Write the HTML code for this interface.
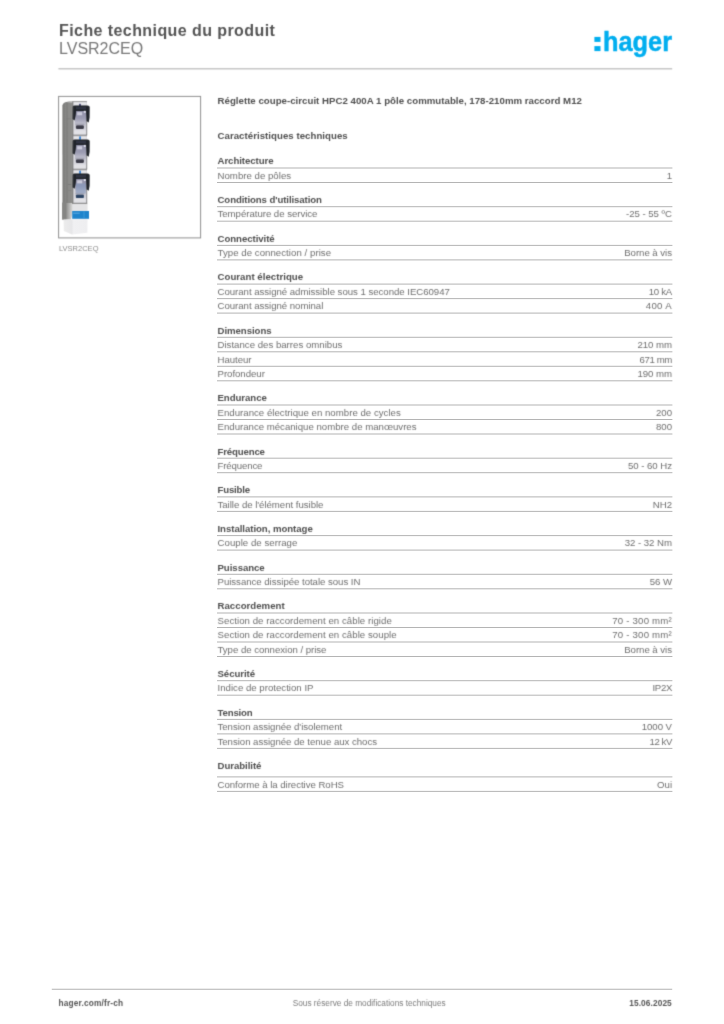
<!DOCTYPE html>
<html lang="fr"><head><meta charset="utf-8"><title>Fiche technique du produit LVSR2CEQ</title>
<style>
html,body{margin:0;padding:0;background:#fff}
body{width:724px;height:1024px;position:relative;overflow:hidden;font-family:"Liberation Sans",sans-serif;}
#pg{position:absolute;left:0;top:0;width:724px;height:1024px;filter:url(#soft)}
.t{position:absolute;white-space:nowrap;font-size:9.65px;line-height:12px;}
.h{font-weight:bold;color:#4f4f4f;letter-spacing:-0.05px}
.r{color:#6f6f6f;letter-spacing:-0.03px}
.v{text-align:right}
svg.ov{position:absolute;left:0;top:0}
.ttl{position:absolute;left:59px;white-space:nowrap}
</style></head><body><svg width="0" height="0" style="position:absolute"><filter id="soft" x="0" y="0" width="100%" height="100%" color-interpolation-filters="sRGB"><feConvolveMatrix order="3" kernelMatrix="0.01917 0.10012 0.01917 0.10012 0.52283 0.10012 0.01917 0.10012 0.01917" edgeMode="duplicate" preserveAlpha="false"/></filter></svg><div id="pg">
<svg class="ov" width="724" height="1024" viewBox="0 0 724 1024">
<line x1="58.4" x2="672.2" y1="68.8" y2="68.8" stroke="#c6c6c6" stroke-width="1.5"/>
<rect x="58.6" y="96.4" width="142" height="141.5" fill="#fff" stroke="#909090" stroke-width="1"/>
<defs>
<filter id="pb" x="-10%" y="-5%" width="120%" height="110%"><feGaussianBlur stdDeviation="0.45"/></filter>
<linearGradient id="side" x1="0" x2="1" y1="0" y2="0"><stop offset="0" stop-color="#8a8a88"/><stop offset="0.12" stop-color="#7c7c7a"/><stop offset="0.3" stop-color="#878785"/><stop offset="0.45" stop-color="#7e7e7c"/><stop offset="0.6" stop-color="#8c8c8a"/><stop offset="0.8" stop-color="#8a8a88"/><stop offset="1" stop-color="#9a9a98"/></linearGradient>
<linearGradient id="cov" x1="0" x2="0" y1="0" y2="1"><stop offset="0" stop-color="#8a8aa2"/><stop offset="0.4" stop-color="#9c9cb2"/><stop offset="0.62" stop-color="#bcbcca"/><stop offset="0.72" stop-color="#c8c8d2"/><stop offset="1" stop-color="#dedee4"/></linearGradient>
<linearGradient id="sidefade" x1="0" x2="1" y1="0" y2="0"><stop offset="0" stop-color="#838381"/><stop offset="0.45" stop-color="#9a9a98"/><stop offset="1" stop-color="#e0e0e0"/></linearGradient>
<linearGradient id="base" x1="0" x2="1" y1="0" y2="0"><stop offset="0" stop-color="#ececec"/><stop offset="0.35" stop-color="#e6e6e8"/><stop offset="0.4" stop-color="#f0f0f2"/><stop offset="1" stop-color="#eeeef0"/></linearGradient>
</defs>
<g>
<path d="M62.3 105.5 Q62.6 103.5 65 102.2 L69 101.4 L73 101.4 L73 203 L62.4 203 Z" fill="url(#side)"/>
<path d="M66 101.9 L86.6 101.3 L86.9 103 L72.6 103 Z" fill="#b8b8b8"/>
<path d="M62.2 203 L73 203 L73 212 L71 219.6 L62.2 219.6 Z" fill="url(#sidefade)"/>
<rect x="62.2" y="202.5" width="4.2" height="17" fill="#858583"/>
<rect x="72.6" y="101.6" width="14.3" height="34.1" fill="#d9d9de"/>
<rect x="72.6" y="101.3" width="14.3" height="0.8" fill="#8a8a8a"/>
<rect x="73.2" y="102.39999999999999" width="13" height="2.6" fill="#e6e6ea"/>
<rect x="79.0" y="103.8" width="2" height="2.2" rx="0.6" fill="#4a4a78"/>
<path d="M75.2 109.6 L86 109.6 L86.4 131.6 L74.8 131.6 Z" fill="url(#cov)"/>
<path d="M72.6 106.8 Q72.8 105.39999999999999 75 105.39999999999999 L87.6 105.39999999999999 Q89.6 105.39999999999999 89.7 107.1 L89.6 117.6 L88.7 122.6 L86.4 121.1 L86 110.89999999999999 L76.2 110.89999999999999 L75.7 115.6 L74.6 120.6 L72.4 119.1 Z" fill="#20242a"/>
<rect x="76" y="106.8" width="10" height="2.6" fill="#34384a" opacity="0.8"/>
<rect x="83.8" y="110.8" width="2" height="2" fill="#e8e8f4" opacity="0.9"/>
<rect x="77.2" y="112.1" width="5" height="3.2" fill="#d8d8e6" opacity="0.8"/>
<rect x="75.9" y="125.19999999999999" width="8" height="3.7" rx="1.2" fill="#3c3c48"/>
<rect x="75.4" y="123.6" width="9" height="1.6" fill="#9a9aaa" opacity="0.7"/>
<rect x="73.6" y="130.6" width="12.6" height="3.8" fill="#e2e2e6"/>
<rect x="72.4" y="101.6" width="0.9" height="34.1" fill="#5c5c5a" opacity="0.85"/>
<rect x="86.4" y="120.6" width="0.8" height="14.8" fill="#58585a" opacity="0.8"/>
<rect x="72.6" y="134.7" width="14.4" height="0.9" fill="#666" opacity="0.8"/>
<rect x="72.6" y="135.7" width="14.3" height="34.1" fill="#d9d9de"/>
<rect x="72.6" y="135.39999999999998" width="14.3" height="0.8" fill="#8a8a8a"/>
<rect x="73.2" y="136.5" width="13" height="2.6" fill="#e6e6ea"/>
<rect x="79.2" y="136.29999999999998" width="1.7" height="3.6" rx="0.6" fill="#2f7bd0"/>
<path d="M75.2 143.7 L86 143.7 L86.4 165.7 L74.8 165.7 Z" fill="url(#cov)"/>
<path d="M72.6 140.89999999999998 Q72.8 139.5 75 139.5 L87.6 139.5 Q89.6 139.5 89.7 141.2 L89.6 151.7 L88.7 156.7 L86.4 155.2 L86 145.0 L76.2 145.0 L75.7 149.7 L74.6 154.7 L72.4 153.2 Z" fill="#20242a"/>
<rect x="76" y="140.89999999999998" width="10" height="2.6" fill="#34384a" opacity="0.8"/>
<rect x="83.8" y="144.89999999999998" width="2" height="2" fill="#e8e8f4" opacity="0.9"/>
<rect x="77.2" y="146.2" width="5" height="3.2" fill="#d8d8e6" opacity="0.8"/>
<rect x="75.9" y="159.29999999999998" width="8" height="3.7" rx="1.2" fill="#3c3c48"/>
<rect x="75.4" y="157.7" width="9" height="1.6" fill="#9a9aaa" opacity="0.7"/>
<rect x="73.6" y="164.7" width="12.6" height="3.8" fill="#e2e2e6"/>
<rect x="72.4" y="135.7" width="0.9" height="34.1" fill="#5c5c5a" opacity="0.85"/>
<rect x="86.4" y="154.7" width="0.8" height="14.8" fill="#58585a" opacity="0.8"/>
<rect x="72.6" y="168.79999999999998" width="14.4" height="0.9" fill="#666" opacity="0.8"/>
<rect x="72.6" y="169.8" width="14.3" height="34.1" fill="#d9d9de"/>
<rect x="72.6" y="169.5" width="14.3" height="0.8" fill="#8a8a8a"/>
<rect x="73.2" y="170.60000000000002" width="13" height="2.6" fill="#e6e6ea"/>
<rect x="79.2" y="170.4" width="1.7" height="3.6" rx="0.6" fill="#2f7bd0"/>
<path d="M75.2 177.8 L86 177.8 L86.4 199.8 L74.8 199.8 Z" fill="url(#cov)"/>
<path d="M72.6 175.0 Q72.8 173.60000000000002 75 173.60000000000002 L87.6 173.60000000000002 Q89.6 173.60000000000002 89.7 175.3 L89.6 185.8 L88.7 190.8 L86.4 189.3 L86 179.10000000000002 L76.2 179.10000000000002 L75.7 183.8 L74.6 188.8 L72.4 187.3 Z" fill="#20242a"/>
<rect x="76" y="175.0" width="10" height="2.6" fill="#34384a" opacity="0.8"/>
<rect x="83.8" y="179.0" width="2" height="2" fill="#e8e8f4" opacity="0.9"/>
<rect x="77.2" y="180.3" width="5" height="3.2" fill="#d8d8e6" opacity="0.8"/>
<rect x="75.9" y="194.4" width="8" height="3.7" rx="1.2" fill="#2c4464"/>
<rect x="75.4" y="192.8" width="9" height="1.6" fill="#9a9aaa" opacity="0.7"/>
<rect x="73.6" y="198.8" width="12.6" height="3.8" fill="#e2e2e6"/>
<rect x="72.4" y="169.8" width="0.9" height="34.1" fill="#5c5c5a" opacity="0.85"/>
<rect x="86.4" y="188.8" width="0.8" height="14.8" fill="#58585a" opacity="0.8"/>
<rect x="72.6" y="202.9" width="14.4" height="0.9" fill="#666" opacity="0.8"/>
<rect x="76" y="183.5" width="9.6" height="10" fill="#7f98c0" opacity="0.5"/>
<rect x="72.6" y="202.9" width="14.6" height="0.9" fill="#7c7c7c"/>
<rect x="72.6" y="203.8" width="15" height="7.4" fill="#e4e4e6"/>
<rect x="72.2" y="211" width="16.8" height="7.8" fill="#1d84cc"/>
<rect x="73.2" y="212.6" width="6.5" height="1.1" fill="#5aa8e0"/>
<rect x="83.5" y="211.5" width="1" height="6.8" fill="#3a98d8"/>
<path d="M63.6 219.4 L87.5 219.2 L87.4 232.8 L72 234.4 L63.8 231 Z" fill="url(#base)"/>
<rect x="68" y="184" width="3.2" height="0.7" fill="#6e6e6c" opacity="0.7"/>
<rect x="68" y="190" width="3.2" height="0.6" fill="#7a7a78" opacity="0.6"/>
<rect x="66.4" y="118.5" width="4" height="0.7" fill="#767674" opacity="0.6"/>
</g>
<g fill="#00aeef"><rect x="594.4" y="36.9" width="6.1" height="5"/><rect x="594.4" y="46.1" width="6.1" height="5"/>
<text x="603.0" y="51.1" font-family="Liberation Sans, sans-serif" font-weight="bold" font-size="27.9" stroke="#00aeef" stroke-width="0.5" textLength="69.0" lengthAdjust="spacingAndGlyphs">hager</text></g>
</svg>
<div class="ttl" style="top:20.96px;font-size:16px;line-height:20px;font-weight:bold;color:#555;letter-spacing:0.42px">Fiche technique du produit</div>
<div class="ttl" style="top:39.46px;font-size:16px;line-height:20px;color:#777">LVSR2CEQ</div>
<div class="t h" style="left:217.5px;top:95.15px;font-size:9.67px;letter-spacing:0.02px">Réglette coupe-circuit HPC2 400A 1 pôle commutable, 178-210mm raccord M12</div>
<div class="t h" style="left:217.5px;top:129.91px;letter-spacing:0.05px">Caractéristiques techniques</div>
<div class="t" style="left:59px;top:244.00px;font-size:7.5px;line-height:10px;color:#8c8c8c">LVSR2CEQ</div>
<div class="t h" style="left:217.5px;top:155.36px">Architecture</div>
<div class="t r" style="left:217.5px;top:169.76px;letter-spacing:0.020px">Nombre de pôles</div>
<div class="t r v" style="right:52.0px;top:169.76px">1</div>
<div class="t h" style="left:217.5px;top:194.06px;letter-spacing:-0.090px">Conditions d'utilisation</div>
<div class="t r" style="left:217.5px;top:208.46px">Température de service</div>
<div class="t r v" style="right:52.0px;top:208.46px">-25 - 55 ºC</div>
<div class="t h" style="left:217.5px;top:232.76px">Connectivité</div>
<div class="t r" style="left:217.5px;top:247.16px;letter-spacing:0.047px">Type de connection / prise</div>
<div class="t r v" style="right:52.0px;top:247.16px">Borne à vis</div>
<div class="t h" style="left:217.5px;top:271.46px;letter-spacing:0.033px">Courant électrique</div>
<div class="t r" style="left:217.5px;top:285.86px">Courant assigné admissible sous 1 seconde IEC60947</div>
<div class="t r v" style="right:52.0px;top:285.86px;letter-spacing:-0.280px">10 kA</div>
<div class="t r" style="left:217.5px;top:300.36px">Courant assigné nominal</div>
<div class="t r v" style="right:52.0px;top:300.36px;letter-spacing:0.320px">400 A</div>
<div class="t h" style="left:217.5px;top:324.66px">Dimensions</div>
<div class="t r" style="left:217.5px;top:339.06px;letter-spacing:0.007px">Distance des barres omnibus</div>
<div class="t r v" style="right:52.0px;top:339.06px">210 mm</div>
<div class="t r" style="left:217.5px;top:353.56px">Hauteur</div>
<div class="t r v" style="right:52.0px;top:353.56px;letter-spacing:-0.360px">671 mm</div>
<div class="t r" style="left:217.5px;top:368.06px">Profondeur</div>
<div class="t r v" style="right:52.0px;top:368.06px">190 mm</div>
<div class="t h" style="left:217.5px;top:392.36px">Endurance</div>
<div class="t r" style="left:217.5px;top:406.76px;letter-spacing:0.020px">Endurance électrique en nombre de cycles</div>
<div class="t r v" style="right:52.0px;top:406.76px">200</div>
<div class="t r" style="left:217.5px;top:421.26px;letter-spacing:0.000px">Endurance mécanique nombre de manœuvres</div>
<div class="t r v" style="right:52.0px;top:421.26px">800</div>
<div class="t h" style="left:217.5px;top:445.56px;letter-spacing:-0.150px">Fréquence</div>
<div class="t r" style="left:217.5px;top:459.96px;letter-spacing:-0.130px">Fréquence</div>
<div class="t r v" style="right:52.0px;top:459.96px">50 - 60 Hz</div>
<div class="t h" style="left:217.5px;top:484.26px;letter-spacing:-0.170px">Fusible</div>
<div class="t r" style="left:217.5px;top:498.66px">Taille de l'élément fusible</div>
<div class="t r v" style="right:52.0px;top:498.66px">NH2</div>
<div class="t h" style="left:217.5px;top:522.96px">Installation, montage</div>
<div class="t r" style="left:217.5px;top:537.36px;letter-spacing:0.040px">Couple de serrage</div>
<div class="t r v" style="right:52.0px;top:537.36px">32 - 32 Nm</div>
<div class="t h" style="left:217.5px;top:561.66px">Puissance</div>
<div class="t r" style="left:217.5px;top:576.06px">Puissance dissipée totale sous IN</div>
<div class="t r v" style="right:52.0px;top:576.06px">56 W</div>
<div class="t h" style="left:217.5px;top:600.36px;letter-spacing:0.030px">Raccordement</div>
<div class="t r" style="left:217.5px;top:614.76px;letter-spacing:0.053px">Section de raccordement en câble rigide</div>
<div class="t r v" style="right:52.0px;top:614.76px;letter-spacing:0.220px">70 - 300 mm²</div>
<div class="t r" style="left:217.5px;top:629.26px;letter-spacing:0.053px">Section de raccordement en câble souple</div>
<div class="t r v" style="right:52.0px;top:629.26px;letter-spacing:0.220px">70 - 300 mm²</div>
<div class="t r" style="left:217.5px;top:643.76px">Type de connexion / prise</div>
<div class="t r v" style="right:52.0px;top:643.76px">Borne à vis</div>
<div class="t h" style="left:217.5px;top:668.06px">Sécurité</div>
<div class="t r" style="left:217.5px;top:682.46px;letter-spacing:0.010px">Indice de protection IP</div>
<div class="t r v" style="right:52.0px;top:682.46px;letter-spacing:-0.330px">IP2X</div>
<div class="t h" style="left:217.5px;top:706.76px;letter-spacing:-0.170px">Tension</div>
<div class="t r" style="left:217.5px;top:721.16px">Tension assignée d'isolement</div>
<div class="t r v" style="right:52.0px;top:721.16px">1000 V</div>
<div class="t r" style="left:217.5px;top:735.66px">Tension assignée de tenue aux chocs</div>
<div class="t r v" style="right:52.0px;top:735.66px;letter-spacing:-0.430px">12 kV</div>
<div class="t h" style="left:217.5px;top:759.96px">Durabilité</div>
<div class="t r" style="left:217.5px;top:778.66px">Conforme à la directive RoHS</div>
<div class="t r v" style="right:52.0px;top:778.66px">Oui</div>
<div class="t" style="left:58.6px;top:998.22px;font-size:8.3px;line-height:11px;font-weight:bold;color:#555;letter-spacing:0.16px">hager.com/fr-ch</div>
<div class="t" style="left:292.7px;top:997.93px;font-size:8.27px;line-height:11px;color:#7c7c7c">Sous réserve de modifications techniques</div>
<div class="t" style="right:52.200000000000045px;top:998.22px;font-size:8.3px;line-height:11px;font-weight:bold;color:#555;letter-spacing:0.1px">15.06.2025</div>
</div>
<svg class="ov" width="724" height="1024" viewBox="0 0 724 1024"><g stroke="#9e9e9e" stroke-width="0.78" fill="none">
<line x1="217.0" x2="672.4" y1="168.00" y2="168.00"/>
<line x1="217.0" x2="672.4" y1="182.50" y2="182.50"/>
<line x1="217.0" x2="672.4" y1="206.70" y2="206.70"/>
<line x1="217.0" x2="672.4" y1="221.20" y2="221.20"/>
<line x1="217.0" x2="672.4" y1="245.40" y2="245.40"/>
<line x1="217.0" x2="672.4" y1="259.90" y2="259.90"/>
<line x1="217.0" x2="672.4" y1="284.10" y2="284.10"/>
<line x1="217.0" x2="672.4" y1="298.60" y2="298.60"/>
<line x1="217.0" x2="672.4" y1="313.10" y2="313.10"/>
<line x1="217.0" x2="672.4" y1="337.30" y2="337.30"/>
<line x1="217.0" x2="672.4" y1="351.80" y2="351.80"/>
<line x1="217.0" x2="672.4" y1="366.30" y2="366.30"/>
<line x1="217.0" x2="672.4" y1="380.80" y2="380.80"/>
<line x1="217.0" x2="672.4" y1="405.00" y2="405.00"/>
<line x1="217.0" x2="672.4" y1="419.50" y2="419.50"/>
<line x1="217.0" x2="672.4" y1="434.00" y2="434.00"/>
<line x1="217.0" x2="672.4" y1="458.20" y2="458.20"/>
<line x1="217.0" x2="672.4" y1="472.70" y2="472.70"/>
<line x1="217.0" x2="672.4" y1="496.90" y2="496.90"/>
<line x1="217.0" x2="672.4" y1="511.40" y2="511.40"/>
<line x1="217.0" x2="672.4" y1="535.60" y2="535.60"/>
<line x1="217.0" x2="672.4" y1="550.10" y2="550.10"/>
<line x1="217.0" x2="672.4" y1="574.30" y2="574.30"/>
<line x1="217.0" x2="672.4" y1="588.80" y2="588.80"/>
<line x1="217.0" x2="672.4" y1="613.00" y2="613.00"/>
<line x1="217.0" x2="672.4" y1="627.50" y2="627.50"/>
<line x1="217.0" x2="672.4" y1="642.00" y2="642.00"/>
<line x1="217.0" x2="672.4" y1="656.50" y2="656.50"/>
<line x1="217.0" x2="672.4" y1="680.70" y2="680.70"/>
<line x1="217.0" x2="672.4" y1="695.20" y2="695.20"/>
<line x1="217.0" x2="672.4" y1="719.40" y2="719.40"/>
<line x1="217.0" x2="672.4" y1="733.90" y2="733.90"/>
<line x1="217.0" x2="672.4" y1="748.40" y2="748.40"/>
<line x1="217.0" x2="672.4" y1="776.90" y2="776.90"/>
<line x1="217.0" x2="672.4" y1="791.40" y2="791.40"/>
<line x1="51.8" x2="672.2" y1="989.25" y2="989.25" stroke="#a0a0a0" stroke-width="0.8"/>
</g></svg>
</body></html>
